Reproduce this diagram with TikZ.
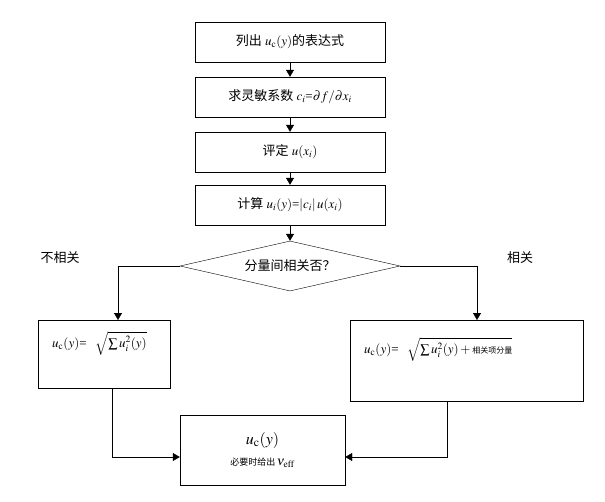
\documentclass[tikz,border=0pt]{standalone}
\usepackage{mathptmx}
\usepackage{fontspec}
\setmainfont{Liberation Serif}
\newfontfamily\cjk{Noto Sans CJK SC}
\usetikzlibrary{shapes.geometric,arrows.meta}
\begin{document}
\begin{tikzpicture}[
    x=1pt, y=-1pt,
    every node/.style={align=center, font=\fontsize{13}{15}\selectfont},
    box/.style={draw, minimum width=190pt, minimum height=40pt},
    res/.style={draw, anchor=north west, align=left, inner xsep=14pt},
    link/.style={-{Triangle[length=7pt,width=8pt]}}
  ]
    \useasboundingbox (0,0) rectangle (605,501);
    \node[box] (list) at (290,42) {{\cjk 列出} $u_\mathrm{c}(y)${\cjk 的表达式}};
    \node[box] (sens) at (290,97) {{\cjk 求灵敏系数} $c_i$=$\partial f/\partial x_i$};
    \node[box] (eval) at (290,152) {{\cjk 评定} $u(x_i)$};
    \node[box] (calc) at (290,205) {{\cjk 计算} $u_i(y)$=$|c_i|\,u(x_i)$};
    \node[draw, diamond, aspect=4.4, minimum width=220pt, minimum height=50pt, inner sep=0pt] (corr) at (290,266)
      {{\cjk 分量间相关否？}};
    \node at (60,258) {\cjk 不相关};
    \node at (520,258) {\cjk 相关};
    \node[res, text width=104pt, minimum height=68pt, text depth=30pt] (indep) at (38,320)
      {$u_\mathrm{c}(y)$= \ $\sqrt{\sum u_i^2(y)}$};
    \node[res, text width=205pt, minimum height=81pt, text depth=30pt] (dep) at (350,320)
      {$u_\mathrm{c}(y)$= \ $\sqrt{\sum u_i^2(y)+\mbox{\cjk\footnotesize 相关项分量}}$};
    \node[draw, minimum width=165pt, minimum height=70pt] (result) at (262.5,450)
      {{\fontsize{16}{18}\selectfont $u_\mathrm{c}(y)$}\\[6pt] {\cjk\small 必要时给出}$\,\nu_\mathrm{eff}$};
    \draw[link] (list) -- (sens);
    \draw[link] (sens) -- (eval);
    \draw[link] (eval) -- (calc);
    \draw[link] (calc) -- (corr);
    \draw[link] (corr.west) -| ([xshift=80pt]indep.north west);
    \draw[link] (corr.east) -| ([xshift=127pt]dep.north west);
    \draw[link] ([xshift=74pt]indep.south west) |- ([yshift=-7pt]result.west);
    \draw[link] ([xshift=97pt]dep.south west) |- ([yshift=-7pt]result.east);
  \end{tikzpicture}
\end{document}
